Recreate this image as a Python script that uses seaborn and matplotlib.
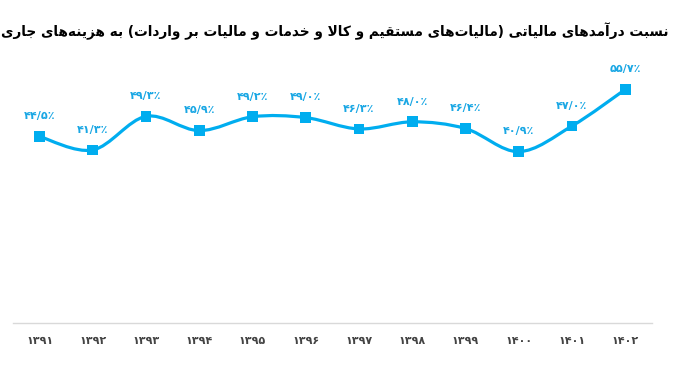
import numpy as np
import matplotlib
matplotlib.use('Agg')
import matplotlib.pyplot as plt
import seaborn as sns
from matplotlib.path import Path
from matplotlib.patches import PathPatch


years = [1391, 1392, 1393, 1394, 1395, 1396, 1397, 1398, 1399, 1400, 1401, 1402]
ratios = [44.5, 41.3, 49.3, 45.9, 49.2, 49.0, 46.3, 48.0, 46.4, 40.9, 47.0, 55.7]
title = 'نسبت درآمدهای مالیاتی (مالیات‌های مستقیم و کالا و خدمات و مالیات بر واردات) به هزینه‌های جاری'

BLUE = '#00adef'
FA_DIGITS = str.maketrans('0123456789', '۰۱۲۳۴۵۶۷۸۹')

# presentation forms: isolated, final, initial, medial
FORMS = {
    '\u0627': ('\ufe8d', '\ufe8e', None, None),
    '\u0622': ('\ufe81', '\ufe82', None, None),
    '\u0628': ('\ufe8f', '\ufe90', '\ufe91', '\ufe92'),
    '\u062a': ('\ufe95', '\ufe96', '\ufe97', '\ufe98'),
    '\u062c': ('\ufe9d', '\ufe9e', '\ufe9f', '\ufea0'),
    '\u062e': ('\ufea5', '\ufea6', '\ufea7', '\ufea8'),
    '\u062f': ('\ufea9', '\ufeaa', None, None),
    '\u0631': ('\ufead', '\ufeae', None, None),
    '\u0632': ('\ufeaf', '\ufeb0', None, None),
    '\u0633': ('\ufeb1', '\ufeb2', '\ufeb3', '\ufeb4'),
    '\u0642': ('\ufed5', '\ufed6', '\ufed7', '\ufed8'),
    '\u0644': ('\ufedd', '\ufede', '\ufedf', '\ufee0'),
    '\u0645': ('\ufee1', '\ufee2', '\ufee3', '\ufee4'),
    '\u0646': ('\ufee5', '\ufee6', '\ufee7', '\ufee8'),
    '\u0647': ('\ufee9', '\ufeea', '\ufeeb', '\ufeec'),
    '\u0648': ('\ufeed', '\ufeee', None, None),
    '\u06a9': ('\ufb8e', '\ufb8f', '\ufb90', '\ufb91'),
    '\u06cc': ('\ufbfc', '\ufbfd', '\ufbfe', '\ufbff'),
}
LAM_ALEF = {'\u0627': ('\ufefb', '\ufefc'), '\u0622': ('\ufef5', '\ufef6')}


def is_dual(c):
    return c in FORMS and FORMS[c][2] is not None


def persian(text):
    """Shape Persian letters by hand and put them in visual order."""
    text = text.replace('\u064a', '\u06cc').replace('\u0643', '\u06a9').replace('\u0627\u0653', '\u0622')
    chars = list(text)
    out = []
    i = 0
    while i < len(chars):
        c = chars[i]
        if c not in FORMS:
            if c != '\u200c':
                out.append(c)
            i += 1
            continue
        joins_prev = i > 0 and is_dual(chars[i - 1])
        nxt = chars[i + 1] if i + 1 < len(chars) else ''
        if c == '\u0644' and nxt in LAM_ALEF:
            out.append(LAM_ALEF[nxt][1 if joins_prev else 0])
            i += 2
            continue
        joins_next = is_dual(c) and nxt in FORMS
        iso, fin, ini, med = FORMS[c]
        if joins_prev and joins_next:
            out.append(med)
        elif joins_prev:
            out.append(fin)
        elif joins_next:
            out.append(ini)
        else:
            out.append(iso)
        i += 1
    return ''.join(reversed(out)).translate(str.maketrans('()', ')('))


def smooth_path(xs, ys, tension=1.0):
    """Catmull-Rom style bezier through the points."""
    pts = np.column_stack([xs, ys]).astype(float)
    verts = [pts[0]]
    codes = [Path.MOVETO]
    for i in range(len(pts) - 1):
        p0 = pts[i - 1] if i > 0 else pts[i]
        p1, p2 = pts[i], pts[i + 1]
        p3 = pts[i + 2] if i + 2 < len(pts) else pts[i + 1]
        c1 = p1 + (p2 - p0) / 6 * tension
        c2 = p2 - (p3 - p1) / 6 * tension
        verts += [c1, c2, p2]
        codes += [Path.CURVE4] * 3
    return Path(verts, codes)


sns.set_theme(style='white')
plt.rcParams['font.family'] = ['DejaVu Sans']

fig = plt.figure(figsize=(6.79, 3.68), dpi=100)
ax = fig.add_axes([0.019, 0.121, 0.941, 0.685])

x = np.arange(len(years))
ax.add_patch(PathPatch(smooth_path(x, ratios), facecolor='none', edgecolor=BLUE,
                       lw=2.3, capstyle='round', zorder=2))
sns.scatterplot(x=x, y=ratios, marker='s', s=60, color=BLUE, edgecolor='none',
                ax=ax, zorder=3, legend=False)

for xi, v in zip(x, ratios):
    label = (f'{v:.1f}'.replace('.', '/') + '٪').translate(FA_DIGITS)
    ax.annotate(label, (xi, v), xytext=(0, 14.5), textcoords='offset points',
                ha='center', va='center', fontsize=8, fontweight='bold', color='#1aa7e4')

ax.set_xlim(-0.5, len(years) - 0.5)
ax.set_ylim(0, 60)
ax.set_xticks(x)
ax.set_xticklabels([str(y).translate(FA_DIGITS) for y in years],
                   fontsize=8, fontweight='bold', color='#444444')
ax.set_yticks([])
ax.tick_params(axis='x', length=0, pad=9)
for side in ['top', 'left', 'right']:
    ax.spines[side].set_visible(False)
ax.spines['bottom'].set_color('#d9d9d9')
ax.spines['bottom'].set_linewidth(1)
ax.set_xlabel('')
ax.set_ylabel('')

fig.text(0.984, 0.915, persian(title), ha='right', va='center',
         fontsize=9.8, fontweight='bold', color='black')

fig.savefig('out.png', dpi=100)
